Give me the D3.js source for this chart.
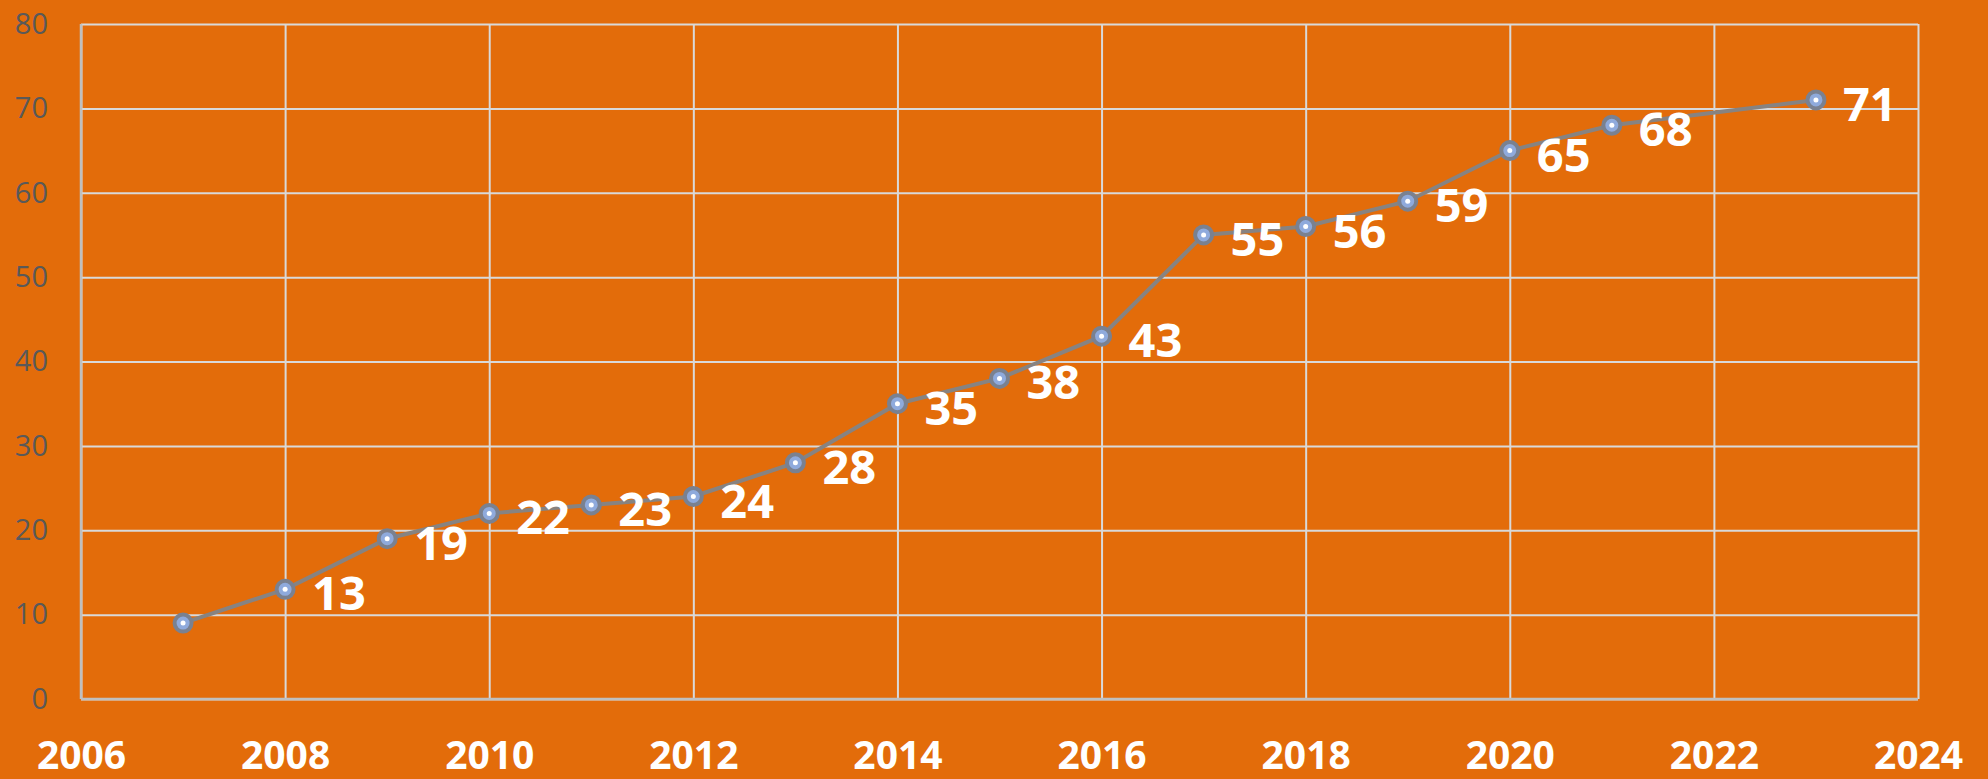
<!DOCTYPE html>
<html>
  <head>
    <meta http-equiv="Content-Type" content="text/html; charset=UTF-8" />
    <title>Line</title>
    <script src="https://cdn.jsdelivr.net/npm/d3@7"></script>
    <style>
      body { margin: 0; background: #E36C0A; }
    </style>
  </head>
  <body>
    <svg width="1988" height="779" id="mainsvg"></svg>
    <script>
        // data
        const years = [2007, 2008, 2009, 2010, 2011, 2012, 2013, 2014, 2015, 2016, 2017, 2018, 2019, 2020, 2021, 2023];
        const values = [9, 13, 19, 22, 23, 24, 28, 35, 38, 43, 55, 56, 59, 65, 68, 71];
        const labels = [null, '13', '19', '22', '23', '24', '28', '35', '38', '43', '55', '56', '59', '65', '68', '71'];
        const xTicks = [2006, 2008, 2010, 2012, 2014, 2016, 2018, 2020, 2022, 2024];
        const yTicks = [0, 10, 20, 30, 40, 50, 60, 70, 80];

        const svg = d3.select('#mainsvg');
        const width = +svg.attr('width');
        const height = +svg.attr('height');
        const margin = {top: 24, right: 70, bottom: 80, left: 81};
        const innerWidth = width - margin.left - margin.right;
        const innerHeight = height - margin.top - margin.bottom;

        svg.append('rect').attr('width', width).attr('height', height).attr('fill', '#E36C0A');

        const data = years.map((y, i) => ({year: y, value: values[i], label: labels[i]}));

        const xScale = d3.scaleLinear().domain([2006, 2024]).range([0, innerWidth]);
        const yScale = d3.scaleLinear().domain([0, 80]).range([innerHeight, 0]);

        const g = svg.append('g')
          .attr('transform', `translate(${margin.left}, ${margin.top})`);

        // grid
        const yAxis = d3.axisLeft(yScale).tickValues(yTicks).tickSize(-innerWidth).tickPadding(33);
        const xAxis = d3.axisBottom(xScale).tickValues(xTicks).tickSize(-innerHeight).tickPadding(42)
          .tickFormat(d3.format('d'));

        const yAxisGroup = g.append('g').call(yAxis);
        yAxisGroup.selectAll('.domain').remove();
        yAxisGroup.selectAll('line').attr('stroke', '#D9D9D9').attr('stroke-width', 2);
        yAxisGroup.selectAll('text')
          .attr('fill', '#595959')
          .attr('font-family', '"Open Sans", sans-serif')
          .attr('font-size', '29px');

        const xAxisGroup = g.append('g').call(xAxis)
          .attr('transform', `translate(0, ${innerHeight})`);
        xAxisGroup.selectAll('.domain').remove();
        xAxisGroup.selectAll('line').attr('stroke', '#D9D9D9').attr('stroke-width', 2);
        xAxisGroup.selectAll('text')
          .attr('fill', '#ffffff')
          .attr('font-family', '"Open Sans", sans-serif')
          .attr('font-weight', 'bold')
          .attr('font-size', '39px');

        // axis lines on left and bottom
        g.append('line').attr('x1', 0).attr('x2', 0).attr('y1', 0).attr('y2', innerHeight)
          .attr('stroke', '#BFBFBF').attr('stroke-width', 2.5);
        g.append('line').attr('x1', 0).attr('x2', innerWidth).attr('y1', innerHeight).attr('y2', innerHeight)
          .attr('stroke', '#BFBFBF').attr('stroke-width', 2.5);

        // the line
        const line = d3.line().x(d => xScale(d.year)).y(d => yScale(d.value));
        g.append('path').datum(data)
          .attr('d', line)
          .attr('fill', 'none')
          .attr('stroke', '#878381')
          .attr('stroke-width', 4);

        // markers
        const marks = g.selectAll('.mark').data(data).enter().append('g')
          .attr('class', 'mark')
          .attr('transform', d => `translate(${xScale(d.year)}, ${yScale(d.value)})`);
        marks.append('circle').attr('r', 8.5)
          .attr('fill', '#8FAADC')
          .attr('stroke', '#7A8190')
          .attr('stroke-width', 4);
        marks.append('circle').attr('r', 2.5).attr('fill', '#ffffff');

        // value labels
        g.selectAll('.vlabel').data(data.filter(d => d.label)).enter().append('text')
          .attr('class', 'vlabel')
          .attr('x', d => xScale(d.year) + 27)
          .attr('y', d => yScale(d.value) + 21)
          .attr('fill', '#ffffff')
          .attr('font-family', '"Open Sans", sans-serif')
          .attr('font-weight', 'bold')
          .attr('font-size', '47px')
          .text(d => d.label);
    </script>
  </body>
</html>
